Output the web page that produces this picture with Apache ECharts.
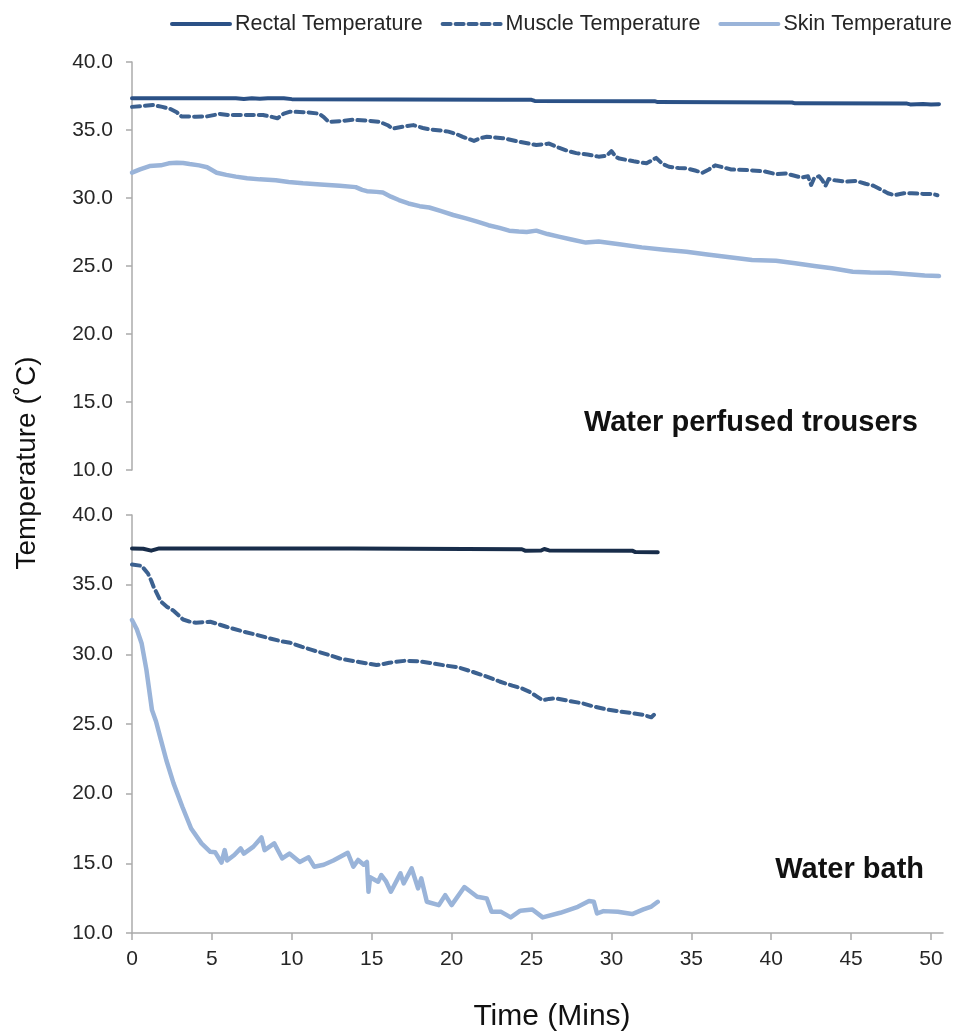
<!DOCTYPE html>
<html>
<head>
<meta charset="utf-8">
<script src="https://cdn.jsdelivr.net/npm/echarts@6/dist/echarts.min.js"></script>
<style>
  html, body { margin: 0; padding: 0; background: #fff; }
  #chart { width: 953px; height: 1034px; }
</style>
</head>
<body>
<div id="chart"></div>
<script>
// Body temperatures over time, two cooling methods: [minutes, °C]
const seriesNames = ['Rectal Temperature', 'Muscle Temperature', 'Skin Temperature'];
const panelTitles = ['Water perfused trousers', 'Water bath'];
const timeTicks = [0, 5, 10, 15, 20, 25, 30, 35, 40, 45, 50];

// Water perfused trousers
const wptRectal = [[0,37.33],[6.5,37.33],[7,37.28],[7.5,37.33],[8,37.3],[8.5,37.33],[9.5,37.33],[10,37.27],
  [23,37.22],[25,37.22],[25.2,37.14],[32.7,37.12],[32.9,37.05],[41.3,37.02],[41.5,36.96],[48.5,36.94],
  [48.7,36.88],[49.5,36.92],[50,36.88],[50.5,36.9]];
const wptMuscle = [[0,36.7],[0.6,36.75],[1.3,36.84],[1.9,36.7],[2.4,36.55],[2.8,36.3],[3.1,36.0],[4.0,35.98],
  [4.7,36.0],[5.5,36.18],[6.0,36.1],[6.5,36.1],[7.5,36.1],[8.2,36.1],[8.8,35.95],[9.1,35.86],[9.5,36.2],
  [9.9,36.35],[11.0,36.3],[11.7,36.2],[12.0,35.95],[12.3,35.6],[13.0,35.65],[13.8,35.75],[14.6,35.7],
  [15.5,35.6],[16.0,35.35],[16.3,35.1],[17.0,35.25],[17.6,35.36],[18.2,35.15],[18.6,35.05],[19.4,34.95],
  [19.8,34.88],[20.3,34.7],[20.7,34.5],[21.4,34.2],[21.8,34.4],[22.2,34.5],[23.2,34.4],[24.2,34.14],
  [25.3,33.9],[26.1,34.0],[26.7,33.7],[27.3,33.45],[27.8,33.3],[28.5,33.2],[29.2,33.04],[29.7,33.1],
  [30.0,33.45],[30.3,33.0],[30.5,32.9],[31.4,32.7],[32.2,32.55],[32.8,32.95],[33.2,32.5],[33.6,32.3],
  [34.2,32.2],[34.7,32.18],[35.3,32.0],[35.7,31.86],[36.1,32.1],[36.5,32.4],[37.0,32.25],[37.5,32.1],
  [38.5,32.05],[39.6,31.95],[40.3,31.75],[40.9,31.8],[41.4,31.65],[41.9,31.5],[42.3,31.6],[42.5,30.96],
  [42.7,31.5],[43.0,31.6],[43.2,31.3],[43.4,30.9],[43.6,31.4],[44.0,31.3],[44.6,31.2],[45.3,31.25],
  [45.9,31.05],[46.4,30.9],[46.9,30.6],[47.3,30.35],[47.7,30.2],[48.3,30.35],[48.8,30.35],[49.5,30.3],
  [50.1,30.3],[50.4,30.2]];
const wptSkin = [[0,31.86],[0.5,32.1],[1.1,32.35],[1.8,32.4],[2.3,32.55],[2.8,32.6],[3.2,32.58],[3.6,32.5],
  [4.2,32.4],[4.7,32.26],[5.3,31.86],[5.9,31.7],[6.5,31.57],[7.2,31.45],[8.0,31.37],[9.0,31.3],[9.8,31.18],
  [10.7,31.08],[11.8,31.0],[13.0,30.9],[14.0,30.8],[14.4,30.6],[14.7,30.5],[15.3,30.45],[15.7,30.4],
  [16.2,30.1],[16.7,29.85],[17.3,29.6],[18.0,29.4],[18.6,29.3],[19.3,29.05],[20.1,28.75],[20.9,28.5],
  [21.6,28.26],[22.3,28.0],[23.0,27.8],[23.6,27.6],[24.2,27.53],[24.7,27.5],[25.3,27.6],[26.0,27.35],
  [26.7,27.16],[27.5,26.95],[28.4,26.72],[29.2,26.8],[30.5,26.6],[31.9,26.37],[33.3,26.2],[34.7,26.05],
  [36.0,25.85],[37.4,25.65],[38.8,25.44],[40.3,25.39],[41.5,25.2],[42.7,25.0],[43.8,24.83],[45.1,24.58],
  [46.2,24.52],[47.4,24.5],[48.6,24.4],[49.6,24.3],[50.5,24.26]];

// Water bath
const bathRectal = [[0,37.6],[0.7,37.58],[1.2,37.44],[1.7,37.6],[13.8,37.6],[13.9,37.54],[24.4,37.54],
  [24.6,37.44],[25.6,37.45],[25.8,37.56],[26.1,37.46],[31.3,37.44],[31.5,37.34],[32.9,37.33]];
const bathMuscle = [[0,36.45],[0.6,36.35],[1.0,35.8],[1.2,35.3],[1.35,34.85],[1.8,33.8],[2.2,33.4],[2.6,33.13],
  [3.2,32.5],[3.6,32.35],[4.0,32.27],[4.9,32.34],[5.3,32.2],[5.9,31.98],[7.0,31.62],[7.8,31.4],[8.6,31.15],
  [9.3,30.95],[9.9,30.83],[10.6,30.55],[11.3,30.3],[12.2,30.0],[13.0,29.7],[14.2,29.45],[15.3,29.23],
  [15.7,29.3],[16.1,29.4],[17.1,29.54],[18.0,29.5],[18.8,29.35],[19.6,29.2],[20.4,29.07],[21.3,28.75],
  [22.2,28.4],[23.0,28.05],[23.8,27.75],[24.4,27.55],[24.9,27.3],[25.3,27.0],[25.7,26.7],[26.1,26.8],
  [26.5,26.84],[27.4,26.65],[28.2,26.48],[28.9,26.25],[29.6,26.07],[30.5,25.9],[31.4,25.76],[32.0,25.65],
  [32.5,25.48],[32.7,25.7]];
const bathSkin = [[0,32.46],[0.3,31.8],[0.6,30.8],[0.9,28.9],[1.25,26.0],[1.5,25.2],[1.8,23.9],[2.15,22.4],
  [2.6,20.74],[3.15,19.06],[3.7,17.5],[4.35,16.43],[4.9,15.83],[5.2,15.8],[5.6,15.05],[5.8,15.95],[5.95,15.2],
  [6.4,15.6],[6.8,16.07],[7.0,15.7],[7.6,16.2],[8.1,16.86],[8.3,15.95],[8.9,16.43],[9.4,15.35],[9.85,15.7],
  [10.5,15.1],[11.05,15.43],[11.4,14.76],[12.0,14.9],[12.6,15.2],[13.5,15.76],[13.85,14.76],[14.15,15.24],
  [14.5,14.9],[14.7,15.1],[14.8,12.96],[14.9,14.0],[15.4,13.68],[15.6,14.16],[15.9,13.7],[16.2,12.96],
  [16.8,14.28],[17.0,13.56],[17.5,14.64],[17.9,13.2],[18.1,13.92],[18.45,12.24],[19.2,12.0],[19.6,12.72],
  [20.0,12.0],[20.8,13.3],[21.6,12.6],[22.2,12.48],[22.5,11.52],[23.1,11.52],[23.7,11.12],[24.3,11.6],
  [25.05,11.69],[25.7,11.12],[26.8,11.45],[27.9,11.88],[28.6,12.3],[28.9,12.24],[29.1,11.4],[29.5,11.57],
  [30.4,11.52],[31.3,11.36],[32.0,11.69],[32.5,11.9],[32.9,12.24]];

const FONT = '"Liberation Sans", Arial, sans-serif';
const TEXT = '#262626';
const AXIS = '#ababab';
const COLORS = { rectal: '#2b5186', rectalBath: '#182d4a', muscle: '#3c6190', skin: '#9ab4d9' };

function xAxisCfg(gridIndex, visible) {
  return {
    type: 'value', gridIndex, min: 0, max: 50.75, interval: 5,
    show: visible,
    axisLine: { show: visible, lineStyle: { color: AXIS, width: 1.5 } },
    axisTick: { show: visible, length: 7, customValues: timeTicks, lineStyle: { color: AXIS, width: 1.5 } },
    axisLabel: { show: visible, customValues: timeTicks, margin: 16, color: TEXT, fontSize: 21, fontFamily: FONT },
    splitLine: { show: false }
  };
}
function yAxisCfg(gridIndex) {
  return {
    type: 'value', gridIndex, min: 10, max: 40, interval: 5,
    axisLine: { show: true, lineStyle: { color: AXIS, width: 1.5 } },
    axisTick: { show: true, length: 6, lineStyle: { color: AXIS, width: 1.5 } },
    axisLabel: { margin: 19, color: TEXT, fontSize: 21, fontFamily: FONT, formatter: v => v.toFixed(1) },
    splitLine: { show: false }
  };
}
function line(name, data, idx, color, width, type) {
  return {
    name, type: 'line', data, xAxisIndex: idx, yAxisIndex: idx,
    showSymbol: false, symbol: 'none', smooth: false, animation: false,
    lineStyle: { color, width, type, cap: 'round', join: 'round' },
    itemStyle: { color }
  };
}

const chart = echarts.init(document.getElementById('chart'), null, { renderer: 'canvas' });
chart.setOption({
  backgroundColor: '#ffffff',
  animation: false,
  legend: {
    data: seriesNames, left: 165, top: 8, width: 800, orient: 'horizontal',
    itemWidth: 58, itemHeight: 1, itemGap: 18,
    lineStyle: { width: 4 },
    textStyle: { color: TEXT, fontSize: 21.5, fontFamily: FONT }
  },
  grid: [
    { left: 132, top: 62, width: 811, height: 408 },
    { left: 132, top: 515, width: 811, height: 418 }
  ],
  xAxis: [xAxisCfg(0, false), xAxisCfg(1, true)],
  yAxis: [yAxisCfg(0), yAxisCfg(1)],
  series: [
    line(seriesNames[0], wptRectal, 0, COLORS.rectal, 4, 'solid'),
    line(seriesNames[1], wptMuscle, 0, COLORS.muscle, 4, [8, 5]),
    line(seriesNames[2], wptSkin, 0, COLORS.skin, 4.5, 'solid'),
    line(seriesNames[0], bathRectal, 1, COLORS.rectalBath, 4, 'solid'),
    line(seriesNames[1], bathMuscle, 1, COLORS.muscle, 4, [8, 5]),
    line(seriesNames[2], bathSkin, 1, COLORS.skin, 4.5, 'solid')
  ],
  graphic: [
    { type: 'text', x: 918, y: 423, style: { text: panelTitles[0], align: 'right', verticalAlign: 'middle',
      fill: '#111', font: 'bold 29px ' + FONT } },
    { type: 'text', x: 924, y: 870, style: { text: panelTitles[1], align: 'right', verticalAlign: 'middle',
      fill: '#111', font: 'bold 29px ' + FONT } },
    { type: 'text', x: 27, y: 463, rotation: Math.PI / 2, style: { text: 'Temperature (˚C)', align: 'center',
      verticalAlign: 'middle', fill: '#111', font: '28px ' + FONT } },
    { type: 'text', x: 552, y: 1017, style: { text: 'Time (Mins)', align: 'center', verticalAlign: 'middle',
      fill: '#111', font: '30px ' + FONT } }
  ]
});
</script>
</body>
</html>
